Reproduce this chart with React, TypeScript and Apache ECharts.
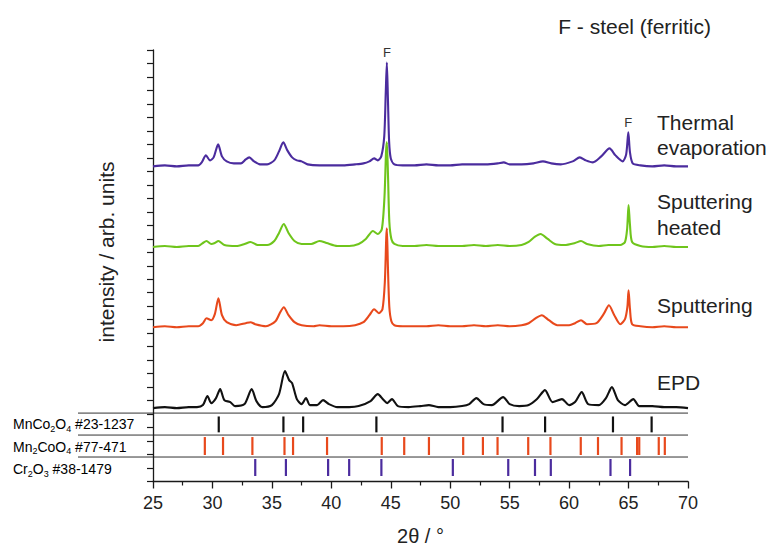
import React, { useEffect, useRef } from "react";
import * as echarts from "echarts";

// 2θ (deg) vs intensity above each pattern's baseline (arb. units)
const THERMAL: [number, number][] = [[25,0],[26,1],[27,0],[28,1],[28.8,1],[29.1,4],[29.45,11],[29.8,6],[30.1,9],[30.48,22],[30.8,10],[31.2,5],[31.8,3],[32.4,3],[32.8,7],[33.1,9],[33.5,5],[34.0,2],[34.6,2],[35.2,6],[35.6,15],[35.96,24],[36.3,16],[36.7,9],[37.1,6],[37.5,5],[38.0,2],[39,1],[40,1],[41,1],[42,2],[42.7,3],[43.2,5],[43.6,8],[43.9,6],[44.2,10],[44.45,30],[44.58,75],[44.67,104],[44.76,68],[44.86,25],[45.0,8],[45.3,2],[46,1],[47,1],[48,2],[49,1],[50,1],[51,2],[52,2],[53,2],[54,3],[54.5,4],[55,2],[56,2],[57,3],[57.8,5],[58.5,3],[59.3,2],[60.3,5],[60.9,9],[61.4,6],[62.0,4],[62.7,10],[63.4,18],[63.9,11],[64.5,5],[64.8,12],[64.98,34],[65.12,14],[65.35,3],[66,1],[67,0],[68,1],[69,0],[70,0]];
const HEATED: [number, number][] = [[25,0],[26,1],[27,0],[28,1],[28.8,1],[29.2,4],[29.5,6],[29.9,3],[30.2,4],[30.5,6],[31,2],[32,1],[32.7,3],[33.2,5],[33.8,2],[34.6,2],[35.2,6],[35.6,14],[36.0,23],[36.4,14],[36.9,6],[37.5,3],[38.3,3],[39.0,6],[39.6,4],[40.5,1],[41.5,1],[42.3,3],[42.9,8],[43.5,16],[43.9,13],[44.25,18],[44.47,50],[44.6,95],[44.67,105],[44.77,70],[44.88,25],[45.05,8],[45.3,3],[46,1],[47,1],[48,2],[49,1],[50,1],[51,1],[52,2],[53,1],[54,2],[55,1],[56,2],[56.6,5],[57.1,10],[57.6,13],[58.2,8],[58.8,3],[59.6,2],[60.5,4],[61.0,6],[61.5,3],[62.5,1],[63.3,2],[64.3,2],[64.7,5],[64.88,18],[65.0,42],[65.12,22],[65.3,5],[66,1],[67,0],[68,1],[69,0],[70,0]];
const SPUTTER: [number, number][] = [[25,0],[26,1],[27,0],[28,1],[28.8,1],[29.2,4],[29.5,9],[29.9,7],[30.2,13],[30.5,29],[30.8,12],[31.2,5],[32,2],[32.8,4],[33.2,5],[33.6,3],[34.5,1],[35.3,6],[35.7,15],[36.0,20],[36.4,12],[36.9,5],[37.5,2],[38.5,1],[39.0,2],[40,1],[41,1],[42,2],[42.7,5],[43.2,12],[43.6,18],[44.0,14],[44.3,18],[44.5,45],[44.62,90],[44.67,99],[44.76,60],[44.88,20],[45.05,6],[45.3,2],[46,1],[47,1],[48,1],[49,2],[50,1],[51,1],[52,2],[53,1],[54,2],[55,1],[56,2],[56.6,4],[57.2,9],[57.7,12],[58.3,7],[59,2],[60,2],[60.5,4],[61.0,7],[61.5,3],[62.3,4],[62.9,13],[63.35,22],[63.8,12],[64.3,3],[64.7,8],[64.9,20],[65.0,37],[65.12,18],[65.3,3],[66,1],[67,0],[68,1],[69,0],[70,0]];
const EPD: [number, number][] = [[25,0],[26,1],[27,0],[28,1],[28.7,1],[29.2,3],[29.58,12],[29.9,5],[30.3,10],[30.65,19],[31.0,8],[31.5,6],[31.9,2],[32.7,4],[33.3,19],[33.7,7],[34.2,1],[35.0,3],[35.6,14],[36.1,37],[36.45,28],[36.7,25],[37.1,9],[37.5,4],[37.87,10],[38.2,3],[38.8,3],[39.3,8],[39.8,4],[40.5,1],[41.5,1],[42.3,2],[43.3,7],[43.9,14],[44.4,8],[44.7,5],[45.1,9],[45.6,2],[46.5,1],[47.5,2],[48.2,3],[49,1],[50,1],[51,2],[51.6,4],[52.2,10],[52.8,4],[53.5,3],[54.45,11],[55.0,4],[55.8,2],[56.6,3],[57.3,9],[57.97,18],[58.6,6],[59.4,9],[60.0,3],[60.5,6],[61.06,16],[61.6,4],[62.5,3],[63.1,10],[63.6,21],[64.1,8],[64.7,3],[65.4,9],[65.9,2],[67,2],[68,1],[69,1],[70,0]];

// Reference stick patterns (2θ positions)
const MNCO2O4 = [30.53, 35.97, 37.63, 43.79, 54.4, 57.98, 63.69, 66.94];
const MN2COO4 = [29.36, 30.89, 33.36, 36.06, 36.78, 39.64, 44.24, 46.13, 48.21, 51.09, 52.75, 53.98, 56.56, 58.43, 60.98, 62.43, 64.41, 65.72, 65.9, 67.54, 68.05];
const CR2O3 = [33.6, 36.18, 39.73, 41.5, 44.21, 50.22, 54.88, 57.13, 58.46, 63.48, 65.13];

const X_TICKS = [25, 30, 35, 40, 45, 50, 55, 60, 65, 70];
const F_PEAKS = [44.67, 64.98];

// stacking offsets & band layout (axis units)
const OFF_THERMAL = 315.5;
const OFF_HEATED = 234.8;
const OFF_SPUTTER = 154.5;
const OFF_EPD = 73.5;
const BAND_LINES = [68.5, 46.5, 24.5];

const FONT = "'Liberation Sans', Arial, sans-serif";
const C_PURPLE = "#4b2c9e";
const C_GREEN = "#6fc51c";
const C_ORANGE = "#e8491c";
const C_BLACK = "#111111";

const shift = (arr: [number, number][], off: number) => arr.map(([x, y]) => [x, y + off]);

const lineSeries = (name: string, arr: [number, number][], off: number, color: string, extra: any = {}) => ({
  name,
  type: "line",
  data: shift(arr, off),
  showSymbol: false,
  symbol: "none",
  smooth: 0.25,
  lineStyle: { color, width: 2.1 },
  z: 3,
  ...extra,
});

const stickSeries = (xs: number[], y0: number, y1: number, color: string) => ({
  type: "custom",
  data: xs.map((x) => [x, y0, y1]),
  encode: { x: 0, y: [1, 2] },
  silent: true,
  renderItem: (_p: any, api: any) => {
    const a = api.coord([api.value(0), api.value(1)]);
    const b = api.coord([api.value(0), api.value(2)]);
    return {
      type: "line",
      shape: { x1: a[0], y1: a[1], x2: b[0], y2: b[1] },
      style: { stroke: color, lineWidth: 2.2 },
    };
  },
});

export default function App() {
  const ref = useRef<HTMLDivElement>(null);
  useEffect(() => {
    document.body.style.margin = "0";
    if (!ref.current) return;
    const chart = echarts.init(ref.current, undefined, { renderer: "svg" });
    const peakOf = (arr: [number, number][], x: number) => (arr.find((p) => p[0] === x) || [x, 0])[1];
    const option: any = {
      animation: false,
      backgroundColor: "#ffffff",
      textStyle: { fontFamily: FONT },
      grid: { left: 153, right: 88, top: 50, bottom: 67.5, outerBoundsMode: "none", containLabel: false },
      xAxis: {
        type: "value",
        min: 25,
        max: 70,
        interval: 5,
        axisLine: { lineStyle: { color: "#1a1a1a", width: 1.3 } },
        axisTick: { length: 7, lineStyle: { color: "#1a1a1a", width: 1.3 } },
        minorTick: { show: true, splitNumber: 2, length: 4, lineStyle: { color: "#1a1a1a", width: 1.2 } },
        axisLabel: {
          fontSize: 18,
          color: "#222",
          margin: 12,
          fontFamily: FONT,
          formatter: (v: number) => (X_TICKS.includes(v) ? String(v) : ""),
        },
        splitLine: { show: false },
        name: "2θ / °",
        nameLocation: "middle",
        nameGap: 44,
        nameTextStyle: { fontSize: 20, color: "#222", fontFamily: FONT },
      },
      yAxis: {
        type: "value",
        min: 0,
        max: 432,
        interval: 13.5,
        axisLine: { show: true, lineStyle: { color: "#1a1a1a", width: 1.3 } },
        axisTick: { show: true, length: 6, lineStyle: { color: "#1a1a1a", width: 1.2 } },
        axisLabel: { show: false },
        splitLine: { show: false },
      },
      series: [
        lineSeries("EPD", EPD, OFF_EPD, C_BLACK),
        lineSeries("Sputtering", SPUTTER, OFF_SPUTTER, C_ORANGE),
        lineSeries("Sputtering heated", HEATED, OFF_HEATED, C_GREEN),
        lineSeries("Thermal evaporation", THERMAL, OFF_THERMAL, C_PURPLE, {
          markPoint: {
            symbol: "rect",
            symbolSize: 0,
            silent: true,
            label: { show: true, formatter: "F", position: "top", distance: 3, fontSize: 13, color: "#333", fontFamily: FONT },
            data: F_PEAKS.map((x) => ({ coord: [x, peakOf(THERMAL, x) + OFF_THERMAL], value: "F" })),
          },
        }),
        stickSeries(MNCO2O4, 49.2, 65.1, C_BLACK),
        stickSeries(MN2COO4, 26.5, 44.5, C_ORANGE),
        stickSeries(CR2O3, 5.5, 22.5, C_PURPLE),
      ],
    };
    chart.setOption(option);

    const xr = chart.convertToPixel({ gridIndex: 0 }, [70, 0]) as number[];
    const bandGraphics = BAND_LINES.map((v) => {
      const p = chart.convertToPixel({ gridIndex: 0 }, [25, v]) as number[];
      return {
        type: "line",
        shape: { x1: 78, y1: p[1], x2: xr[0], y2: p[1] },
        style: { stroke: "#333", lineWidth: 1 },
        silent: true,
      };
    });
    const sub = { fontSize: 9, verticalAlign: "bottom", fontFamily: FONT };
    const mkRich = (color: string) => ({
      a: { fontSize: 14, lineHeight: 18, color, fontFamily: FONT },
      s: { ...sub, color },
    });
    const textEl = (text: string, x: number, y: number, size: number, align = "left") => ({
      type: "text",
      x,
      y,
      silent: true,
      style: { text, fontSize: size, fill: "#222", fontFamily: FONT, textAlign: align, textVerticalAlign: "middle" },
    });
    chart.setOption({
      graphic: [
        ...bandGraphics,
        {
          type: "text",
          x: 13,
          y: 424,
          style: { text: "{a|MnCo}{s|2}{a|O}{s|4}{a| #23-1237}", rich: mkRich("#1a1a1a"), textVerticalAlign: "middle" },
        },
        {
          type: "text",
          x: 13,
          y: 446.5,
          style: { text: "{a|Mn}{s|2}{a|CoO}{s|4}{a| #77-471}", rich: mkRich("#e0532a"), textVerticalAlign: "middle" },
        },
        {
          type: "text",
          x: 13,
          y: 469,
          style: { text: "{a|Cr}{s|2}{a|O}{s|3}{a| #38-1479}", rich: mkRich("#4a3b9c"), textVerticalAlign: "middle" },
        },
        textEl("F - steel (ferritic)", 711, 26, 21, "right"),
        textEl("Thermal", 657, 122, 21),
        textEl("evaporation", 657, 147, 21),
        textEl("Sputtering", 657, 201, 21),
        textEl("heated", 657, 227, 21),
        textEl("Sputtering", 657, 305, 21),
        textEl("EPD", 657, 382, 21),
        {
          type: "text",
          x: 106,
          y: 252,
          rotation: Math.PI / 2,
          silent: true,
          style: { text: "intensity / arb. units", fontSize: 21, fill: "#222", fontFamily: FONT, textAlign: "center", textVerticalAlign: "middle" },
        },
      ],
    });
    return () => chart.dispose();
  }, []);
  return <div ref={ref} style={{ width: 776, height: 549 }} />;
}
